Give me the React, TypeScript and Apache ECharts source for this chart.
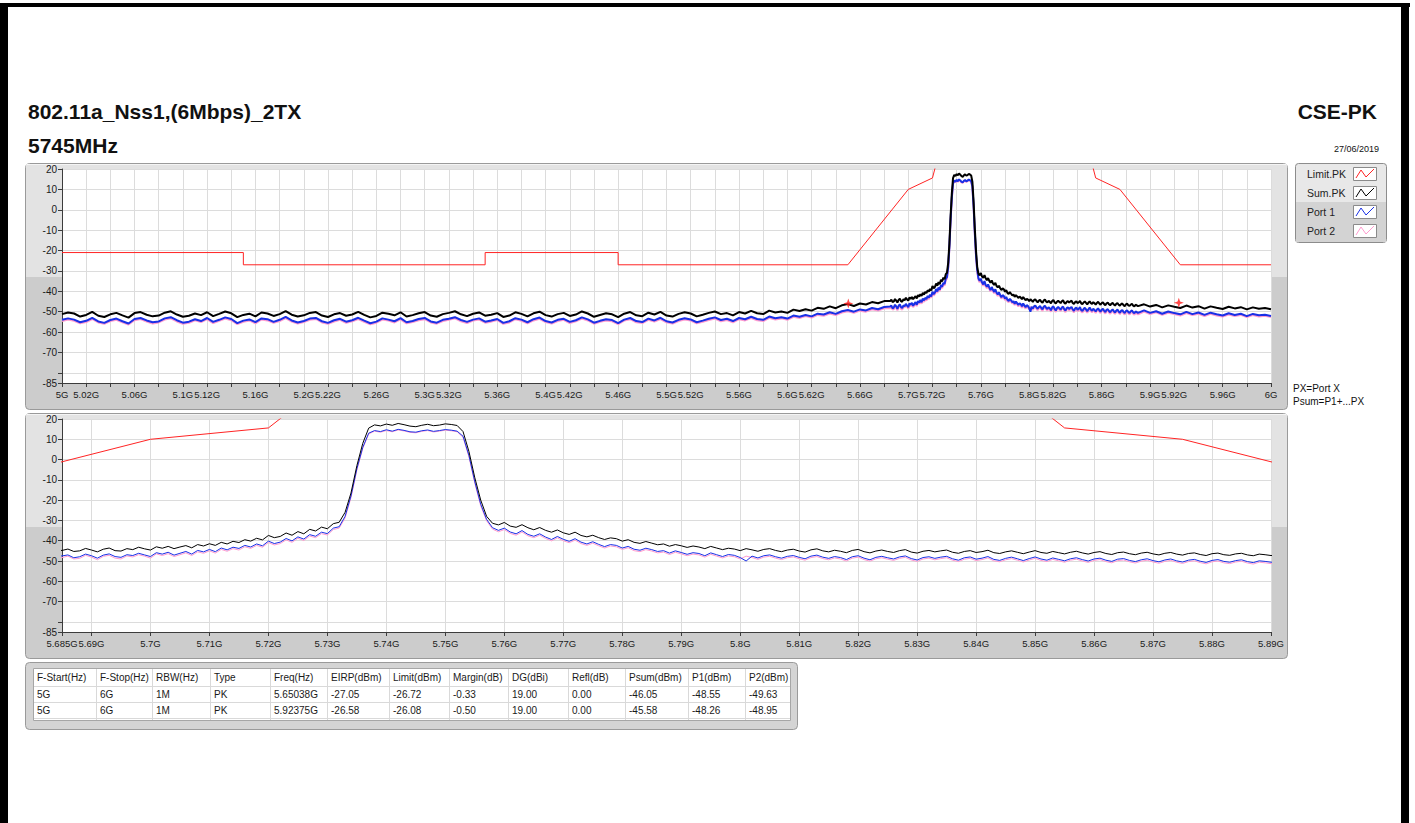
import React, { useEffect, useRef } from "react";
import * as echarts from "echarts";

// ---------------- texts ----------------
const TITLE = "802.11a_Nss1,(6Mbps)_2TX";
const SUBTITLE = "5745MHz";
const MODE = "CSE-PK";
const DATE = "27/06/2019";
const NOTE_1 = "PX=Port X";
const NOTE_2 = "Psum=P1+...PX";
const LEGEND_NAMES = ["Limit.PK", "Sum.PK", "Port 1", "Port 2"];

// ---------------- sample grids (GHz): start, step, count ----------------
const SEG_A = [5.0, 0.005, 137];
const SEG_B = [5.685, 0.001, 206];
const SEG_C = [5.895, 0.005, 22];

// ---------------- Sum.PK (dBm) ----------------
const SUM_A = [
  -51.2, -50.4, -50.9, -52.4, -51.6, -50.1, -52.0, -52.6, -51.3, -50.6,
  -51.8, -52.9, -50.7, -50.2, -51.5, -52.3, -51.9, -50.5, -49.8, -51.4,
  -52.5, -52.0, -50.9, -51.7, -50.3, -52.2, -51.1, -49.9, -50.8, -52.7,
  -51.6, -51.0, -52.3, -50.4, -50.9, -52.1, -51.2, -49.7, -51.5, -52.4,
  -51.8, -50.6, -50.2, -51.9, -52.6, -51.3, -50.7, -52.0, -51.4, -50.1,
  -51.6, -52.8, -52.1, -50.5, -51.0, -51.8, -50.3, -52.4, -51.7, -50.8,
  -50.2, -51.9, -52.5, -51.2, -50.6, -49.8, -51.3, -52.2, -51.0, -50.4,
  -52.0, -51.5, -50.7, -52.6, -51.9, -50.3, -51.1, -52.3, -50.8, -50.0,
  -51.7, -52.4, -51.2, -50.6, -52.1, -51.4, -49.9, -50.9, -52.5, -51.6,
  -50.8, -51.3, -52.7, -51.0, -50.2, -51.8, -52.2, -50.5, -51.4, -50.1,
  -51.9, -52.4, -51.1, -50.3, -50.9, -52.3, -51.5, -50.6, -49.9, -51.2,
  -50.7, -51.8, -50.2, -50.9, -49.6, -50.8, -51.2, -49.5, -50.4, -49.9,
  -50.6, -49.0, -49.7, -48.8, -49.5, -48.1, -48.6, -47.4, -48.3, -46.9,
  -46.3, -47.2, -46.0, -46.5, -45.3, -45.9, -44.8,
];
const SUM_B = [
  -44.8, -44.1, -45.3, -45.0, -43.8, -44.6, -45.5, -44.2, -43.6, -44.9,
  -45.1, -43.9, -44.4, -43.2, -44.0, -44.6, -43.0, -43.7, -42.8, -43.9,
  -43.1, -42.4, -43.5, -41.9, -42.6, -41.5, -42.3, -40.8, -41.6, -40.3,
  -40.9, -39.5, -40.2, -38.8, -39.6, -37.4, -38.5, -37.9, -36.2, -37.3,
  -35.5, -36.6, -34.4, -35.2, -33.3, -34.1, -31.6, -30.9, -26.0, -16.5,
  -3.0, 8.0, 15.5, 17.1, 16.6, 17.5, 16.9, 17.8, 17.2, 16.5,
  16.2, 16.9, 17.4, 16.7, 17.0, 17.6, 17.3, 16.8, 13.8, 4.0,
  -9.0, -20.0, -28.0, -31.4, -32.2, -31.0, -32.8, -33.4, -32.1, -33.6,
  -34.6, -33.5, -34.9, -35.8, -34.7, -36.1, -36.9, -35.8, -37.4, -38.1,
  -37.3, -38.5, -39.4, -38.6, -39.0, -40.2, -39.5, -40.8, -41.3, -40.4,
  -41.2, -42.0, -41.6, -42.7, -41.9, -42.5, -43.3, -42.6, -43.1, -43.9,
  -42.8, -43.6, -44.4, -43.7, -44.1, -44.9, -43.9, -44.5, -45.2, -44.3,
  -43.9, -44.8, -45.4, -44.6, -44.2, -45.1, -45.6, -44.5, -44.0, -45.0,
  -45.5, -44.7, -45.2, -45.9, -44.8, -44.3, -45.4, -46.0, -45.1, -44.6,
  -45.3, -45.8, -44.9, -44.4, -45.6, -46.1, -45.2, -44.8, -45.5, -45.0,
  -44.6, -45.7, -46.2, -45.3, -44.9, -45.8, -45.4, -44.7, -45.9, -46.3,
  -45.5, -45.0, -45.7, -46.4, -45.6, -44.9, -45.8, -46.2, -45.3, -45.9,
  -46.5, -45.7, -45.2, -46.0, -46.6, -45.8, -45.4, -46.3, -46.8, -45.9,
  -45.6, -46.4, -46.9, -46.1, -45.7, -46.5, -47.0, -46.2, -45.8, -46.6,
  -47.1, -46.3, -46.0, -46.8, -47.3, -46.4, -46.1, -46.9, -47.2, -46.5,
  -46.2, -47.0, -47.4, -46.6, -46.9, -47.3,
];
const SUM_C = [
  -46.4, -47.5, -46.7, -47.9, -46.9, -47.6, -48.2, -47.0, -48.0, -47.3,
  -48.5, -47.4, -48.1, -48.7, -47.6, -48.4, -47.8, -48.9, -47.9, -48.6,
  -48.2, -48.8,
];

// ---------------- Port 1 (dBm) ----------------
const P1_A = [
  -54.0, -53.3, -53.9, -55.2, -54.5, -53.0, -54.8, -55.5, -54.1, -53.4,
  -54.7, -55.8, -53.6, -53.1, -54.3, -55.2, -54.8, -53.3, -52.7, -54.2,
  -55.4, -54.9, -53.7, -54.6, -53.1, -55.0, -54.0, -52.8, -53.6, -55.6,
  -54.4, -53.8, -55.1, -53.3, -53.7, -55.0, -54.0, -52.6, -54.3, -55.3,
  -54.6, -53.4, -53.1, -54.7, -55.5, -54.2, -53.5, -54.9, -54.2, -53.0,
  -54.4, -55.7, -54.9, -53.3, -53.9, -54.7, -53.2, -55.2, -54.6, -53.6,
  -53.1, -54.8, -55.4, -54.0, -53.5, -52.7, -54.1, -55.0, -53.9, -53.3,
  -54.9, -54.3, -53.6, -55.5, -54.7, -53.2, -53.9, -55.2, -53.7, -52.9,
  -54.6, -55.3, -54.0, -53.5, -55.0, -54.2, -52.8, -53.8, -55.4, -54.5,
  -53.7, -54.1, -55.6, -53.9, -53.1, -54.6, -55.1, -53.4, -54.3, -53.0,
  -54.7, -55.3, -54.0, -53.2, -53.8, -55.2, -54.4, -53.5, -52.8, -54.1,
  -53.5, -54.6, -53.1, -53.7, -52.5, -53.6, -54.0, -52.4, -53.2, -52.7,
  -53.4, -51.9, -52.5, -51.6, -52.3, -51.0, -51.4, -50.3, -51.1, -49.8,
  -49.2, -50.0, -48.9, -49.4, -48.2, -48.8, -47.7,
];
const P1_B = [
  -47.5, -47.0, -48.4, -47.9, -46.6, -47.4, -48.6, -47.1, -46.5, -47.8,
  -48.2, -46.9, -47.3, -46.2, -47.0, -47.8, -45.9, -46.6, -45.7, -47.1,
  -46.2, -45.3, -46.6, -44.8, -45.5, -44.3, -45.4, -43.6, -44.5, -43.2,
  -43.8, -42.3, -43.1, -41.6, -42.5, -40.2, -41.4, -40.7, -38.9, -40.1,
  -38.1, -39.2, -37.0, -37.8, -35.8, -36.5, -33.8, -33.1, -28.0, -18.0,
  -4.5, 6.0, 13.0, 14.3, 13.8, 14.7, 14.0, 14.9, 14.4, 13.7,
  13.5, 14.2, 14.6, 13.9, 14.3, 14.8, 14.5, 14.0, 11.5, 2.0,
  -11.0, -22.0, -29.5, -33.6, -34.9, -33.8, -35.7, -36.6, -35.0, -36.9,
  -37.8, -36.6, -38.2, -39.4, -37.9, -39.3, -40.3, -39.0, -40.7, -41.6,
  -40.5, -41.8, -42.9, -41.9, -42.3, -43.6, -42.8, -44.2, -44.7, -43.7,
  -44.4, -45.3, -44.9, -46.1, -45.0, -45.8, -46.7, -45.9, -46.3, -47.4,
  -46.0, -46.9, -47.8, -46.8, -47.2, -48.3, -50.0, -47.6, -48.5, -47.4,
  -47.0, -47.9, -48.6, -47.7, -47.3, -48.2, -48.9, -47.6, -47.1, -48.1,
  -48.7, -47.8, -48.3, -49.3, -47.9, -47.4, -48.6, -49.4, -48.2, -47.7,
  -48.4, -49.0, -48.0, -47.5, -48.8, -49.5, -48.3, -47.9, -48.7, -48.1,
  -47.7, -48.9, -49.6, -48.4, -48.0, -49.1, -48.6, -47.8, -49.2, -49.7,
  -48.7, -48.1, -48.9, -49.8, -48.8, -48.0, -49.0, -49.6, -48.5, -49.2,
  -49.9, -48.9, -48.4, -49.3, -50.0, -49.0, -48.6, -49.6, -50.2, -49.1,
  -48.8, -49.7, -50.3, -49.4, -48.9, -49.8, -50.4, -49.5, -49.0, -49.9,
  -50.5, -49.6, -49.2, -50.1, -50.7, -49.7, -49.3, -50.2, -50.6, -49.8,
  -49.4, -50.3, -50.8, -49.9, -50.2, -50.6,
];
const P1_C = [
  -49.4, -50.6, -49.8, -51.0, -49.9, -50.7, -51.3, -50.1, -51.2, -50.4,
  -51.6, -50.5, -51.3, -51.9, -50.8, -51.6, -51.0, -52.2, -51.1, -51.8,
  -51.5, -52.1,
];

// ---------------- Port 2 (dBm) ----------------
const P2_A = [
  -54.6, -53.8, -54.5, -55.7, -55.1, -53.6, -55.3, -56.0, -54.6, -54.0,
  -55.2, -56.3, -54.2, -53.6, -54.9, -55.8, -55.3, -53.9, -53.3, -54.8,
  -55.9, -55.5, -54.2, -55.1, -53.7, -55.6, -54.5, -53.4, -54.2, -56.1,
  -55.0, -54.3, -55.7, -53.8, -54.3, -55.5, -54.6, -53.2, -54.9, -55.8,
  -55.1, -54.0, -53.6, -55.3, -56.0, -54.8, -54.0, -55.5, -54.7, -53.6,
  -55.0, -56.2, -55.4, -53.9, -54.4, -55.3, -53.8, -55.7, -55.1, -54.2,
  -53.7, -55.3, -55.9, -54.6, -54.0, -53.3, -54.7, -55.6, -54.4, -53.9,
  -55.4, -54.9, -54.1, -56.0, -55.3, -53.7, -54.5, -55.7, -54.3, -53.5,
  -55.1, -55.8, -54.6, -54.0, -55.6, -54.7, -53.4, -54.3, -55.9, -55.0,
  -54.3, -54.7, -56.1, -54.4, -53.7, -55.2, -55.6, -54.0, -54.8, -53.6,
  -55.2, -55.8, -54.6, -53.8, -54.4, -55.7, -55.0, -54.1, -53.4, -54.7,
  -54.1, -55.2, -53.7, -54.3, -53.1, -54.2, -54.6, -53.0, -53.8, -53.3,
  -54.0, -52.5, -53.1, -52.2, -52.9, -51.6, -52.0, -50.9, -51.7, -50.4,
  -49.8, -50.6, -49.5, -50.0, -48.8, -49.4, -48.3,
];
const P2_B = [
  -48.3, -47.6, -49.0, -48.7, -47.2, -48.1, -49.4, -47.7, -47.2, -48.6,
  -49.0, -47.5, -48.0, -46.9, -47.6, -48.6, -46.5, -47.3, -46.4, -47.8,
  -46.9, -46.0, -47.3, -45.5, -46.2, -45.0, -46.1, -44.3, -45.2, -43.9,
  -44.6, -43.0, -43.8, -42.3, -43.2, -40.9, -42.1, -41.4, -39.6, -40.8,
  -38.8, -39.9, -37.7, -38.5, -36.5, -37.2, -34.5, -33.8, -28.8, -18.8,
  -5.2, 5.5, 12.6, 14.0, 13.5, 14.3, 13.7, 14.6, 14.1, 13.4,
  13.2, 13.9, 14.3, 13.6, 14.0, 14.5, 14.2, 13.7, 11.0, 1.4,
  -11.7, -22.8, -30.2, -34.3, -35.6, -34.5, -36.4, -37.3, -35.7, -37.6,
  -38.5, -37.3, -38.9, -40.1, -38.6, -40.0, -41.0, -39.7, -41.4, -42.3,
  -41.2, -42.5, -43.6, -42.6, -43.0, -44.3, -43.5, -44.9, -45.4, -44.4,
  -45.1, -46.0, -45.6, -46.8, -45.7, -46.5, -47.4, -46.6, -47.0, -48.1,
  -46.7, -47.6, -48.5, -47.5, -47.9, -49.0, -47.6, -48.3, -49.2, -48.1,
  -47.7, -48.6, -49.3, -48.4, -48.0, -48.9, -49.6, -48.3, -47.8, -48.8,
  -49.4, -48.5, -49.0, -50.0, -48.6, -48.1, -49.3, -50.1, -48.9, -48.4,
  -49.1, -49.7, -48.7, -48.2, -49.5, -50.2, -49.0, -48.6, -49.4, -48.8,
  -48.4, -49.6, -50.3, -49.1, -48.7, -49.8, -49.3, -48.5, -49.9, -50.4,
  -49.4, -48.8, -49.6, -50.5, -49.5, -48.7, -49.7, -50.3, -49.2, -49.9,
  -50.6, -49.6, -49.1, -50.0, -50.7, -49.7, -49.3, -50.3, -50.9, -49.8,
  -49.5, -50.4, -51.0, -50.1, -49.6, -50.5, -51.1, -50.2, -49.7, -50.6,
  -51.2, -50.3, -49.9, -50.8, -51.4, -50.4, -50.0, -50.9, -51.3, -50.5,
  -50.1, -51.0, -51.5, -50.6, -50.9, -51.3,
];
const P2_C = [
  -50.0, -51.2, -50.3, -51.5, -50.6, -51.2, -51.9, -50.7, -51.7, -51.0,
  -52.1, -51.1, -51.9, -52.4, -51.4, -52.1, -51.6, -52.7, -51.7, -52.4,
  -52.0, -52.6,
];

// ---------------- Limit mask (GHz, dBm) ----------------
const LIMIT_F = [5.0, 5.15, 5.15, 5.35, 5.35, 5.46, 5.46, 5.65, 5.7, 5.72, 5.725, 5.85, 5.855, 5.875, 5.925, 6.0];
const LIMIT_V = [-21, -21, -27, -27, -21, -21, -27, -27, 10, 15.6, 27, 27, 15.6, 10, -27, -27];

// ---------------- markers ----------------
const MARKER_F = [5.65038, 5.92375];
const MARKER_V = [-46.05, -45.58];

// ---------------- axes ----------------
const TOP_X_LABELS = [
  "5G", "5.02G", "5.06G", "5.1G", "5.12G", "5.16G", "5.2G", "5.22G", "5.26G", "5.3G", "5.32G",
  "5.36G", "5.4G", "5.42G", "5.46G", "5.5G", "5.52G", "5.56G", "5.6G", "5.62G", "5.66G", "5.7G",
  "5.72G", "5.76G", "5.8G", "5.82G", "5.86G", "5.9G", "5.92G", "5.96G", "6G",
];

// ---------------- table ----------------
const TABLE_HEADERS = [
  "F-Start(Hz)", "F-Stop(Hz)", "RBW(Hz)", "Type", "Freq(Hz)", "EIRP(dBm)", "Limit(dBm)",
  "Margin(dB)", "DG(dBi)", "Refl(dB)", "Psum(dBm)", "P1(dBm)", "P2(dBm)",
];
const TABLE_ROW_1 = ["5G", "6G", "1M", "PK", "5.65038G", "-27.05", "-26.72", "-0.33", "19.00", "0.00", "-46.05", "-48.55", "-49.63"];
const TABLE_ROW_2 = ["5G", "6G", "1M", "PK", "5.92375G", "-26.58", "-26.08", "-0.50", "19.00", "0.00", "-45.58", "-48.26", "-48.95"];

// ---------------- helpers ----------------
function sampleGrid(seg: number[]): number[] {
  const [start, step, n] = seg;
  const out: number[] = [];
  for (let i = 0; i < n; i++) out.push(Math.round((start + i * step) * 1e6) / 1e6);
  return out;
}
const FREQ = [...sampleGrid(SEG_A), ...sampleGrid(SEG_B), ...sampleGrid(SEG_C)];
const SUM = [...SUM_A, ...SUM_B, ...SUM_C];
const P1 = [...P1_A, ...P1_B, ...P1_C];
const P2 = [...P2_A, ...P2_B, ...P2_C];
const pairs = (xs: number[], ys: number[]) => {
  const n = Math.min(xs.length, ys.length);
  const out: number[][] = [];
  for (let i = 0; i < n; i++) out.push([xs[i], ys[i]]);
  return out;
};
const fmtG = (v: number) => `${parseFloat(v.toFixed(3))}G`;

const FONT = '"Liberation Sans", Arial, sans-serif';
const C_LIMIT = "#ff2424";
const C_SUM = "#000000";
const C_P1 = "#1a30e6";
const C_P2 = "#ff9ccf";

const PLOT_L = 62;
const PLOT_W = 1209;
const TOP_T = 169;
const TOP_H = 214;
const BOT_T = 419;
const BOT_H = 213;

function txt(x: number, y: number, text: string, font: string, align = "left", fill = "#111", z = 10) {
  return {
    type: "text",
    z,
    style: { x, y, text, font, fill, textAlign: align, textVerticalAlign: "middle", align, verticalAlign: "middle" },
  };
}
function rect(x: number, y: number, w: number, h: number, fill: string, stroke: string | null, z: number, r = 0) {
  return {
    type: "rect",
    z,
    shape: { x, y, width: w, height: h, r },
    style: { fill, stroke: stroke || undefined, lineWidth: stroke ? 1 : 0 },
  };
}
function hline(x1: number, x2: number, y: number, color: string, z: number) {
  return { type: "line", z, shape: { x1, y1: y, x2, y2: y }, style: { stroke: color, lineWidth: 1 } };
}
function vline(x: number, y1: number, y2: number, color: string, z: number) {
  return { type: "line", z, shape: { x1: x, y1, x2: x, y2 }, style: { stroke: color, lineWidth: 1 } };
}

function buildGraphic() {
  const g: any[] = [];
  // page border
  g.push(rect(0, 3, 1410, 4, "#000", null, -20));
  g.push(rect(0, 3, 8, 823, "#000", null, -20));
  g.push(rect(1401, 3, 8, 823, "#000", null, -20));
  // titles
  g.push(txt(28, 111, TITLE, `bold 21px ${FONT}`));
  g.push(txt(28, 145, SUBTITLE, `bold 21px ${FONT}`));
  g.push(txt(1377, 111, MODE, `bold 21px ${FONT}`, "right"));
  g.push(txt(1379, 149, DATE, `9px ${FONT}`, "right"));
  // chart frames
  const frames = [
    { y: 163, h: 246, split: 277, pt: TOP_T, ph: TOP_H },
    { y: 413, h: 245, split: 527, pt: BOT_T, ph: BOT_H },
  ];
  frames.forEach((f) => {
    g.push(rect(25.5, f.y + 0.5, 1262, f.h, "#cccccc", "#9a9a9a", -12, 4));
    g.push(rect(26, f.y + 1, 1261, f.split - f.y - 1, "#e3e3e3", null, -11));
    g.push(hline(27, 1286, f.y + 1.5, "#f4f4f4", -11));
    g.push(rect(PLOT_L, f.pt, PLOT_W, f.ph, "#ffffff", null, -10));
  });
  // notes
  g.push(txt(1293, 388, NOTE_1, `10px ${FONT}`));
  g.push(txt(1293, 401, NOTE_2, `10px ${FONT}`));
  // legend
  g.push(rect(1295.5, 163.5, 91, 79, "#e8e8e8", "#8c8c8c", 1, 3));
  g.push(rect(1296, 202, 90, 40, "#d3d3d3", null, 2));
  const legendColors = [C_LIMIT, C_SUM, C_P1, C_P2];
  const rowsY = [174, 193, 212, 231];
  LEGEND_NAMES.forEach((name, i) => {
    const y = rowsY[i];
    g.push(txt(1307, y, name, `10.5px ${FONT}`, "left", "#222", 5));
    g.push(rect(1353.5, y - 6.5, 23, 13, "#ffffff", "#8a8a8a", 4));
    g.push({
      type: "polyline",
      z: 5,
      shape: { points: [[1356, y + 4], [1361, y - 4], [1366, y + 3], [1374, y - 5]] },
      style: { stroke: legendColors[i], lineWidth: 1, fill: "none" },
    });
  });
  // table
  const tx = 33, tw = 757, ty = 668, th = 52;
  g.push(rect(25.5, 662.5, 772, 67, "#d4d4d4", "#9a9a9a", 1, 4));
  g.push(rect(tx + 0.5, ty + 0.5, tw, th, "#ffffff", "#a6a6a6", 2));
  const colX = [33, 96, 152, 210, 270, 327, 389, 449, 508, 568, 625, 688, 745];
  const rowY = [ty, 686, 702, 718];
  rowY.slice(1).forEach((y) => g.push(hline(tx + 1, tx + tw, y + 0.5, "#d9d9d9", 3)));
  colX.slice(1).forEach((x) => g.push(vline(x + 0.5, ty + 1, ty + th, "#d9d9d9", 3)));
  const rows = [TABLE_HEADERS, TABLE_ROW_1, TABLE_ROW_2];
  const rowMid = [677, 694, 710];
  rows.forEach((row, r) => {
    row.forEach((cell, c) => g.push(txt(colX[c] + 4, rowMid[r], cell, `10px ${FONT}`, "left", "#1a1a1a", 4)));
  });
  return g;
}

function axisCommon(gridIndex: number) {
  return {
    type: "value",
    gridIndex,
    axisLine: { show: true, onZero: false, lineStyle: { color: "#3c3c3c", width: 1 } },
    axisTick: { show: true, length: 4, lineStyle: { color: "#3c3c3c" } },
    splitLine: { show: true, lineStyle: { color: "#dcdcdc", width: 1 } },
  };
}

function yAxis(gridIndex: number) {
  return {
    ...axisCommon(gridIndex),
    min: -85,
    max: 20,
    splitNumber: 11,
    minInterval: 10,
    maxInterval: 10,
    axisLabel: {
      color: "#1a1a1a",
      fontFamily: FONT,
      fontSize: 10,
      margin: 5,
      formatter: (v: number) => (v === -80 ? "" : String(v)),
    },
  };
}

function traceSeries(idx: number, name: string, ys: number[], color: string, z: number, width: number) {
  return {
    type: "line",
    name,
    xAxisIndex: idx,
    yAxisIndex: idx,
    data: pairs(FREQ, ys),
    showSymbol: false,
    symbol: "none",
    silent: true,
    clip: true,
    z,
    lineStyle: { color, width, join: "bevel" },
  };
}

export default function App() {
  const ref = useRef<HTMLDivElement>(null);
  useEffect(() => {
    if (!ref.current) return;
    const chart = echarts.init(ref.current, null, { renderer: "svg" });
    const limitData = pairs(LIMIT_F, LIMIT_V);
    const option: any = {
      animation: false,
      backgroundColor: "#ffffff",
      grid: [
        { left: PLOT_L, top: TOP_T, width: PLOT_W, height: TOP_H },
        { left: PLOT_L, top: BOT_T, width: PLOT_W, height: BOT_H },
      ],
      xAxis: [
        {
          ...axisCommon(0),
          min: 5,
          max: 6,
          interval: 0.02,
          axisLabel: {
            color: "#1a1a1a",
            fontFamily: FONT,
            fontSize: 9.5,
            margin: 6,
            formatter: (v: number) => {
              const s = fmtG(v);
              return TOP_X_LABELS.includes(s) ? s : "";
            },
          },
        },
        {
          ...axisCommon(1),
          min: 5.685,
          max: 5.89,
          splitNumber: 20,
          minInterval: 0.01,
          maxInterval: 0.01,
          axisLabel: {
            color: "#1a1a1a",
            fontFamily: FONT,
            fontSize: 9.5,
            margin: 6,
            formatter: (v: number) => fmtG(v),
          },
        },
      ],
      yAxis: [yAxis(0), yAxis(1)],
      graphic: buildGraphic(),
      series: [
        traceSeries(0, "Port 2", P2, C_P2, 2, 2),
        traceSeries(0, "Port 1", P1, C_P1, 3, 2),
        traceSeries(0, "Sum.PK", SUM, C_SUM, 4, 2),
        {
          type: "line", name: "Limit.PK", xAxisIndex: 0, yAxisIndex: 0, data: limitData,
          showSymbol: false, symbol: "none", silent: true, clip: true, z: 5,
          lineStyle: { color: C_LIMIT, width: 1 },
        },
        {
          type: "scatter", name: "Marker", xAxisIndex: 0, yAxisIndex: 0, data: pairs(MARKER_F, MARKER_V),
          symbol: "path://M0,-10 L2.5,-2.5 L10,0 L2.5,2.5 L0,10 L-2.5,2.5 L-10,0 L-2.5,-2.5 Z",
          symbolSize: 10, silent: true, z: 6, itemStyle: { color: "#ff1a1a" },
        },
        traceSeries(1, "Port 2", P2, C_P2, 2, 1),
        traceSeries(1, "Port 1", P1, C_P1, 3, 1),
        traceSeries(1, "Sum.PK", SUM, C_SUM, 4, 1),
        {
          type: "line", name: "Limit.PK", xAxisIndex: 1, yAxisIndex: 1, data: limitData,
          showSymbol: false, symbol: "none", silent: true, clip: true, z: 5,
          lineStyle: { color: C_LIMIT, width: 1 },
        },
      ],
    };
    chart.setOption(option);
    return () => chart.dispose();
  }, []);
  return (
    <div
      ref={ref}
      style={{ position: "absolute", left: 0, top: 0, width: 1415, height: 823, background: "#fff" }}
    />
  );
}
